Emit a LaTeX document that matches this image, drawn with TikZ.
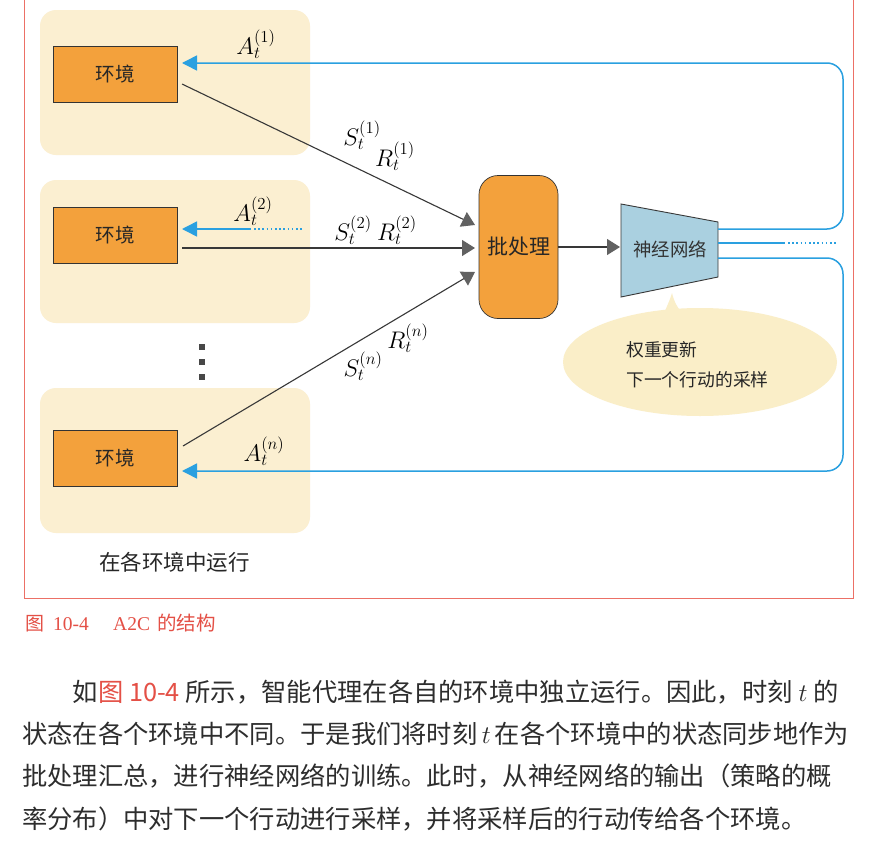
\documentclass[tikz,border=0pt]{standalone}
\usepackage{fix-cm}
\usepackage[no-math]{fontspec}
\setmainfont{Noto Sans CJK SC}
\newfontfamily\capserif{Liberation Serif}
\usetikzlibrary{arrows.meta}
\XeTeXlinebreaklocale "zh"
\XeTeXlinebreakskip=0pt plus 3pt minus 1.2pt
\definecolor{envbgc}{RGB}{251,239,209}
\definecolor{envor}{RGB}{243,161,60}
\definecolor{netblue}{RGB}{170,208,224}
\definecolor{linkblue}{RGB}{42,160,224}
\definecolor{bubblec}{RGB}{250,238,200}
\definecolor{framered}{RGB}{236,112,102}
\definecolor{capred}{RGB}{228,80,70}
\definecolor{bodytext}{RGB}{45,45,45}
\newcommand\fsz[1]{\fontsize{#1}{#1}\selectfont}
\begin{document}
\begin{tikzpicture}[x=1pt,y=-1pt,
  envbg/.style={fill=envbgc, rounded corners=16pt},
  envbox/.style={draw=black!80, line width=0.7pt, fill=envor, minimum width=124pt, minimum height=56pt, inner sep=0pt, font=\fsz{19.5}, text=black!85},
  grayarr/.style={draw=black!78, line width=1.1pt, -{Triangle[length=13pt,width=16pt,color=black!62]}},
  bluelnk/.style={draw=linkblue, line width=1.5pt},
  bluearr/.style={bluelnk, -{Triangle[length=15pt,width=15pt]}},
  bluedot/.style={draw=linkblue, line width=1.3pt, dash pattern=on 1.6pt off 2.6pt},
  mathlbl/.style={inner sep=0pt, font=\fsz{24}},
  bubtxt/.style={anchor=west, inner sep=0pt, font=\fsz{17.8}, text=black!85},
  bodyline/.style={anchor=base west, text width=830pt, align=justify, inner sep=0pt, font=\fontsize{25.3}{30}\selectfont, text=bodytext},
  captxt/.style={anchor=base west, inner sep=0pt, text=capred}
]
\fill[white] (0,0) rectangle (871,854);
\useasboundingbox (0,0) rectangle (871,854);

% frame
\draw[framered, line width=0.9pt] (24,0) -- (24,598) -- (853,598) -- (853,0);

% environment backgrounds
\fill[envbg] (40,10) rectangle (310,155);
\fill[envbg] (40,180) rectangle (310,323);
\fill[envbg] (40,388) rectangle (310,533);

% vertical dots
\fill[black!72] (199,344) rectangle (205,350);
\fill[black!72] (199,359) rectangle (205,365);
\fill[black!72] (199,374) rectangle (205,380);

% speech bubble
\fill[bubblec] (700,362) ellipse [x radius=137pt, y radius=54pt];
\fill[bubblec] (662,318) .. controls (667,306) and (670,300) .. (672,293)
  .. controls (674,302) and (678,309) .. (686,318) -- cycle;
\node[bubtxt] (w1) at (626,350) {权重更新};
\node[bubtxt] (w2) at (626,380) {下一个行动的采样};

% nodes
\node[envbox] (env1) at (115,74) {环境};
\node[envbox] (env2) at (115,235) {环境};
\node[envbox] (env3) at (115,458.5) {环境};
\node[draw=black!80, line width=0.7pt, fill=envor, rounded corners=19pt,
  minimum width=79pt, minimum height=143pt, inner sep=0pt,
  font=\fsz{21}, text=black!85] (batch) at (518.5,247) {批处理};

\coordinate (nt1) at (621,204);
\coordinate (nt2) at (718,222);
\coordinate (nt3) at (718,277);
\coordinate (nt4) at (621,297);
\draw[draw=black!78, line width=0.9pt, fill=netblue] (nt1) -- (nt2) -- (nt3) -- (nt4) -- cycle;
\node[inner sep=0pt, font=\fsz{18.4}, text=black!80] (net) at (670,249) {神经网络};

% gray arrows
\coordinate (s1) at (182,84);
\coordinate (s2) at (182,248);
\coordinate (s3) at (183,446);
\coordinate (t1) at (475,225);
\coordinate (t2) at (475,248);
\coordinate (t3) at (475,272);
\draw[grayarr] (s1) -- (t1);
\draw[grayarr] (s2) -- (t2);
\draw[grayarr] (s3) -- (t3);
\coordinate (bn) at (620,247);
\draw[grayarr] (batch.east) -- (bn);

% blue links
\coordinate (o1) at (718,229);
\coordinate (o2) at (718,243);
\coordinate (o3) at (718,258);
\coordinate (r1) at (843,229);
\coordinate (r1t) at (843,63);
\coordinate (a1) at (182,63);
\coordinate (r3) at (843,258);
\coordinate (r3b) at (843,471);
\coordinate (a3) at (182,471);
\draw[bluearr, rounded corners=16pt] (o1) -- (r1) -- (r1t) -- (a1);
\draw[bluearr, rounded corners=16pt] (o3) -- (r3) -- (r3b) -- (a3);
\coordinate (m1) at (785,243);
\coordinate (m2) at (788,243);
\coordinate (m3) at (837,243);
\draw[bluelnk] (o2) -- (m1);
\draw[bluedot] (m2) -- (m3);
\coordinate (a2) at (182,229);
\coordinate (a2s) at (251,229);
\coordinate (a2d) at (254,229);
\coordinate (a2e) at (303,229);
\draw[bluearr] (a2s) -- (a2);
\draw[bluedot] (a2d) -- (a2e);

% math labels
\node[mathlbl] (la1) at (256,44) {$A_t^{(1)}$};
\node[mathlbl] (la2) at (253,211) {$A_t^{(2)}$};
\node[mathlbl] (lan) at (264,451) {$A_t^{(n)}$};
\node[mathlbl] (ls1) at (362,135) {$S_t^{(1)}$};
\node[mathlbl] (lr1) at (395,156) {$R_t^{(1)}$};
\node[mathlbl] (ls2) at (353,230) {$S_t^{(2)}$};
\node[mathlbl] (lr2) at (397,230) {$R_t^{(2)}$};
\node[mathlbl] (lrn) at (408,338) {$R_t^{(n)}$};
\node[mathlbl] (lsn) at (363,366) {$S_t^{(n)}$};

% run label
\node[anchor=west, inner sep=0pt, font=\fsz{21.5}, text=black!85] (runlbl) at (99,562) {在各环境中运行};

% caption
\node[captxt, font=\fsz{19}] (cap1) at (25,630) {图};
\node[captxt, font=\capserif\fsz{19.5}] (cap2) at (53,630) {10-4};
\node[captxt, font=\capserif\fsz{19.5}] (cap3) at (113,630) {A2C};
\node[captxt, font=\fsz{19.5}] (cap4) at (157,630) {的结构};

% body paragraph
\node[bodyline] (p1) at (22,701) {\parfillskip=0pt\hspace*{2em}如{\color{capred}图 10-4} 所示，智能代理在各自的环境中独立运行。因此，时刻 $t$ 的};
\node[bodyline] (p2) at (22,743.3) {\parfillskip=0pt 状态在各个环境中不同。于是我们将时刻\,$t$\,在各个环境中的状态同步地作为};
\node[bodyline] (p3) at (22,785.6) {\parfillskip=0pt 批处理汇总，进行神经网络的训练。此时，从神经网络的输出（策略的概};
\node[bodyline, text width=786pt] (p4) at (22,828) {\parfillskip=0pt 率分布）中对下一个行动进行采样，并将采样后的行动传给各个环境。};
\end{tikzpicture}
\end{document}
